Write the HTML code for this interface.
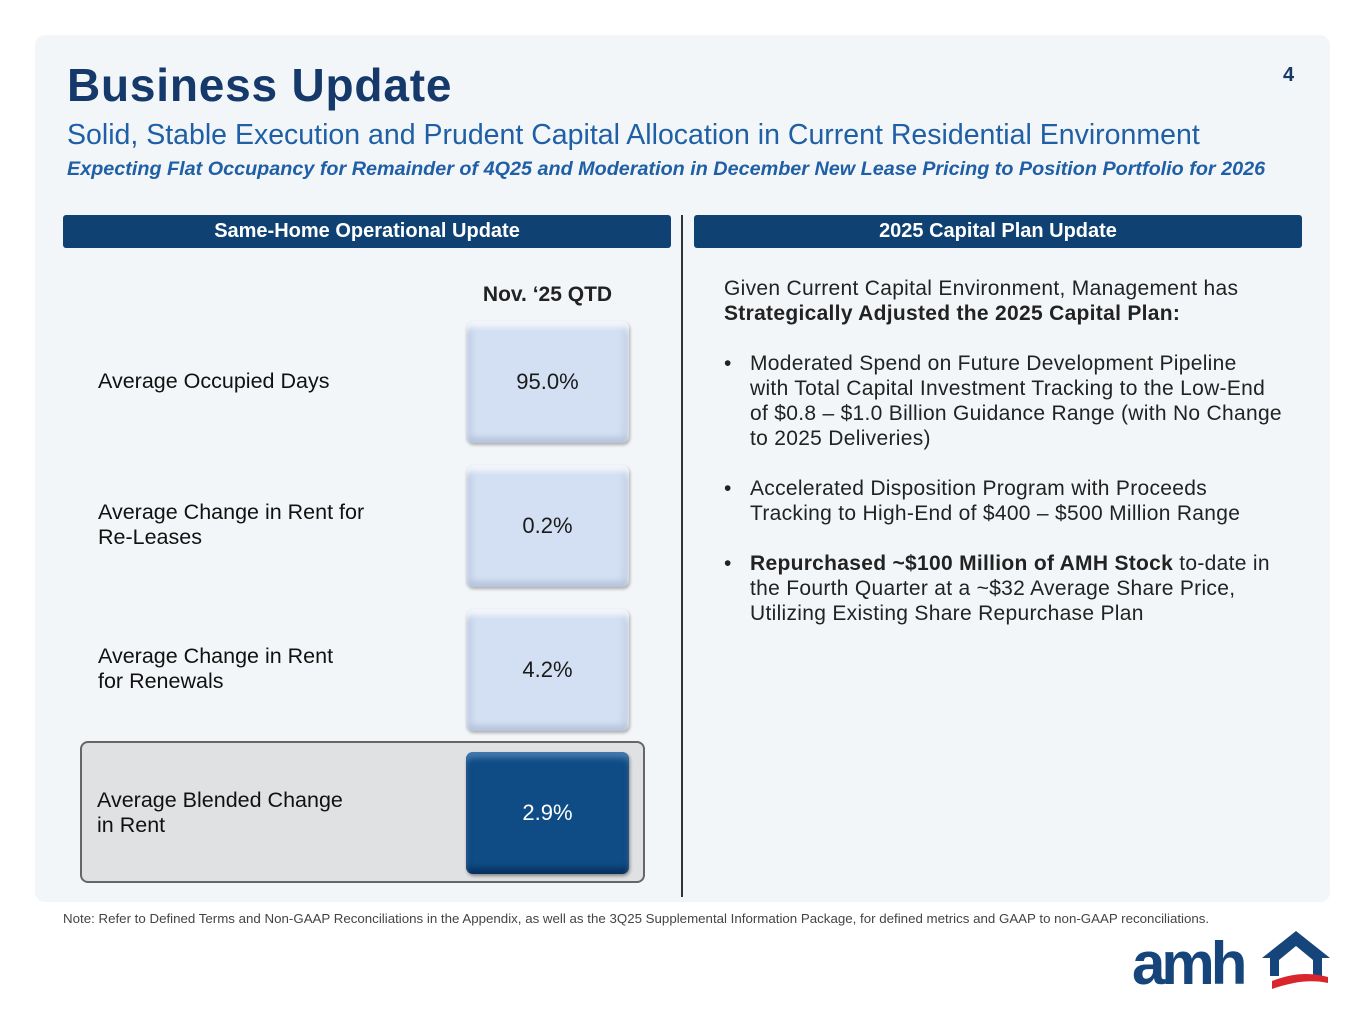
<!DOCTYPE html>
<html><head><meta charset="utf-8"><style>
*{margin:0;padding:0;box-sizing:border-box}
body{width:1365px;height:1024px;background:#fff;font-family:"Liberation Sans",sans-serif;position:relative;overflow:hidden;color:#1b1b1b}
.abs{position:absolute}
#panel{left:35px;top:35px;width:1295px;height:867px;background:#f3f6f8;border-radius:10px}
.hdr{top:215px;height:33px;background:#0f4273;color:#fff;font-weight:bold;font-size:20px;text-align:center;line-height:33px;border-radius:3px}
.tile{left:466px;width:163px;height:122px;border-radius:7px;background:#d3e0f3;box-shadow:inset 0 6px 6px rgba(255,255,255,.8),inset 6px 0 6px rgba(180,195,220,.6),inset -6px 0 6px rgba(180,195,220,.5),inset 0 -6px 6px rgba(170,185,210,.6),1px 2px 3px rgba(0,0,0,.3);text-align:center;line-height:122px;font-size:22px;color:#1a1a1a}
.tile.dark{background:#0f4c86;color:#fff;box-shadow:inset 0 6px 6px rgba(90,140,190,.7),inset 0 -6px 6px rgba(5,40,80,.7),1px 2px 3px rgba(0,0,0,.4)}
.lbl{left:98px;font-size:21.5px;line-height:25px;color:#111}
#right{left:724px;top:276px;font-size:21px;letter-spacing:0.3px;line-height:25px;color:#222;white-space:nowrap}
#right p{margin-bottom:25px}
.bul{position:relative;padding-left:26px;margin-bottom:25px}
.bul:before{content:"•";position:absolute;left:0}
</style></head><body>
<div id="panel" class="abs"></div>
<div class="abs" style="left:67px;top:58px;font-size:46px;font-weight:900;color:#15396a;letter-spacing:0.8px">Business Update</div>
<div class="abs" style="left:1283px;top:64px;font-size:20px;font-weight:bold;color:#15396a">4</div>
<div class="abs" style="left:67px;top:119px;font-size:28.5px;color:#1f5fa6;white-space:nowrap">Solid, Stable Execution and Prudent Capital Allocation in Current Residential Environment</div>
<div class="abs" style="left:67px;top:158px;font-size:19.8px;font-weight:bold;font-style:italic;color:#1f5fa6;white-space:nowrap">Expecting Flat Occupancy for Remainder of 4Q25 and Moderation in December New Lease Pricing to Position Portfolio for 2026</div>
<div class="abs hdr" style="left:63px;width:608px">Same-Home Operational Update</div>
<div class="abs hdr" style="left:694px;width:608px">2025 Capital Plan Update</div>
<div class="abs" style="left:681px;top:215px;width:2px;height:682px;background:#333"></div>
<div class="abs" style="left:466px;width:163px;top:283px;text-align:center;font-size:21px;font-weight:bold;color:#222">Nov. ‘25 QTD</div>
<div class="abs" style="left:80px;top:741px;width:565px;height:142px;background:#dfe1e3;border:2px solid #666;border-radius:8px"></div>
<div class="abs lbl" style="top:369px">Average Occupied Days</div>
<div class="abs lbl" style="top:500px">Average Change in Rent for<br>Re-Leases</div>
<div class="abs lbl" style="top:644px">Average Change in Rent<br>for Renewals</div>
<div class="abs lbl" style="left:97px;top:788px">Average Blended Change<br>in Rent</div>
<div class="abs tile" style="top:321px">95.0%</div>
<div class="abs tile" style="top:465px">0.2%</div>
<div class="abs tile" style="top:609px">4.2%</div>
<div class="abs tile dark" style="top:752px">2.9%</div>
<div id="right" class="abs">
<p>Given Current Capital Environment, Management has<br><b>Strategically Adjusted the 2025 Capital Plan:</b></p>
<div class="bul">Moderated Spend on Future Development Pipeline<br>with Total Capital Investment Tracking to the Low-End<br>of $0.8 – $1.0 Billion Guidance Range (with No Change<br>to 2025 Deliveries)</div>
<div class="bul">Accelerated Disposition Program with Proceeds<br>Tracking to High-End of $400 – $500 Million Range</div>
<div class="bul"><b>Repurchased ~$100 Million of AMH Stock</b> to-date in<br>the Fourth Quarter at a ~$32 Average Share Price,<br>Utilizing Existing Share Repurchase Plan</div>
</div>
<div class="abs" style="left:63px;top:911px;font-size:13.3px;color:#444;white-space:nowrap">Note: Refer to Defined Terms and Non-GAAP Reconciliations in the Appendix, as well as the 3Q25 Supplemental Information Package, for defined metrics and GAAP to non-GAAP reconciliations.</div>
<div class="abs" style="left:1132px;top:928px;width:200px;height:65px">
<div class="abs" style="left:0;top:6px;font-size:60px;font-weight:900;color:#15457b;letter-spacing:-4px;line-height:60px">amh</div>
<svg class="abs" style="left:0;top:0" width="200" height="65"><path d="M130 30 L164 3 L198 30 L190 30 L190 48 L181 48 L181 32 L164 18 L147 32 L147 48 L138 48 L138 30Z" fill="#15457b"/><path d="M140 53 C160 45 178 44 196 49 L196 55 C178 51 160 54 140 61Z" fill="#d9252e"/></svg>
</div>
</body></html>
